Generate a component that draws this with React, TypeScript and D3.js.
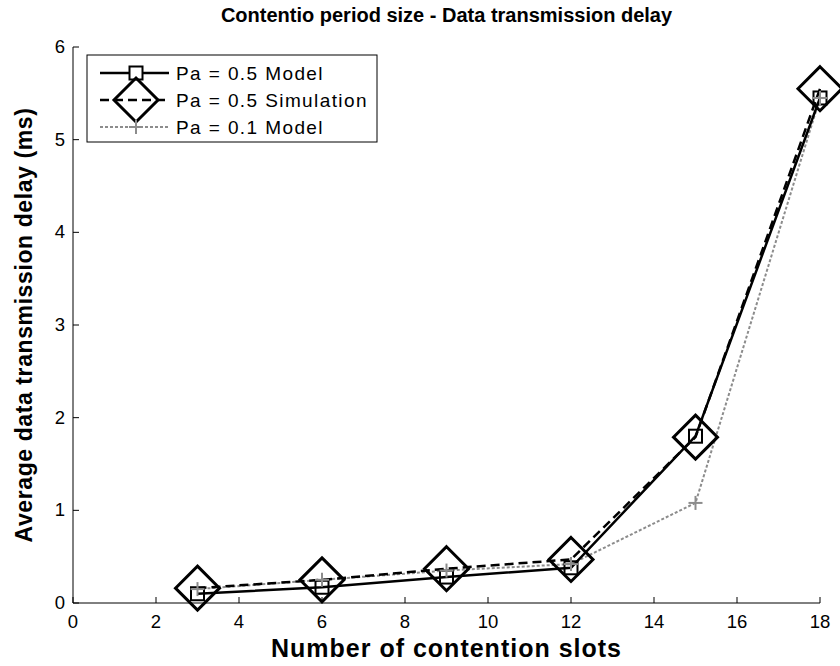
import React from "react";
import * as d3 from "d3";

const xValues = [3, 6, 9, 12, 15, 18];
const model05 = [0.1, 0.17, 0.28, 0.38, 1.8, 5.45];
const sim05 = [0.16, 0.25, 0.37, 0.47, 1.79, 5.55];
const model01 = [0.15, 0.25, 0.35, 0.42, 1.08, 5.45];
const xTicks = [0, 2, 4, 6, 8, 10, 12, 14, 16, 18];
const yTicks = [0, 1, 2, 3, 4, 5, 6];
const seriesNames = ["Pa = 0.5 Model", "Pa = 0.5 Simulation", "Pa = 0.1 Model"];
const title = "Contentio period size - Data transmission delay";
const xLabel = "Number of contention slots";
const yLabel = "Average data transmission delay (ms)";

const W = 840, H = 666;
const L = 73, R = 820, T = 47, B = 603;
const FONT = "'Liberation Sans', Arial, sans-serif";

export default function App() {
  const x = d3.scaleLinear().domain([0, 18]).range([L, R]);
  const y = d3.scaleLinear().domain([0, 6]).range([B, T]);
  const line = d3.line<number>().x((_, i) => x(xValues[i])).y((v) => y(v));

  const diamond = (cx: number, cy: number, r: number) =>
    `M${cx},${cy - r}L${cx + r},${cy}L${cx},${cy + r}L${cx - r},${cy}Z`;

  const lx = 87, ly = 55, lw = 290, lh = 87;
  const rows = [73, 100, 127];

  return (
    <svg width={W} height={H} style={{ position: "absolute", left: 0, top: 0, background: "#fff" }} fontFamily={FONT}>
      <rect width={W} height={H} fill="#fff" />
      <line x1={L} y1={T} x2={L} y2={B} stroke="#000" strokeWidth={1} />
      <line x1={L} y1={B} x2={R} y2={B} stroke="#000" strokeWidth={1} />
      {xTicks.map((t) => (
        <g key={"x" + t}>
          <line x1={x(t)} x2={x(t)} y1={B} y2={B - 6} stroke="#000" />
          <text x={x(t)} y={B + 25} textAnchor="middle" fontSize={18.5}>{t}</text>
        </g>
      ))}
      {yTicks.map((t) => (
        <g key={"y" + t}>
          <line x1={L} x2={L + 6} y1={y(t)} y2={y(t)} stroke="#000" />
          <text x={L - 8} y={y(t) + 6} textAnchor="end" fontSize={18.5}>{t}</text>
        </g>
      ))}
      <text x={(L + R) / 2} y={22} textAnchor="middle" fontSize={20} fontWeight="bold">{title}</text>
      <text x={(L + R) / 2} y={657} textAnchor="middle" fontSize={25} fontWeight="bold" letterSpacing={1}>{xLabel}</text>
      <text transform={`translate(32,${(T + B) / 2}) rotate(-90)`} textAnchor="middle" fontSize={23} fontWeight="bold" letterSpacing={0.6}>{yLabel}</text>

      <path d={line(model01) || ""} fill="none" stroke="#8c8c8c" strokeWidth={2} strokeDasharray="3,2" />
      <path d={line(model05) || ""} fill="none" stroke="#000" strokeWidth={2.5} />
      <path d={line(sim05) || ""} fill="none" stroke="#000" strokeWidth={2.5} strokeDasharray="9,5" />

      {model05.map((v, i) => (
        <rect key={"s" + i} x={x(xValues[i]) - 6.5} y={y(v) - 6.5} width={13} height={13} fill="none" stroke="#000" strokeWidth={2} />
      ))}
      {sim05.map((v, i) => (
        <path key={"d" + i} d={diamond(x(xValues[i]), y(v), 22)} fill="none" stroke="#000" strokeWidth={3} />
      ))}
      {model01.map((v, i) => (
        <g key={"p" + i} stroke="#8c8c8c" strokeWidth={2}>
          <line x1={x(xValues[i]) - 7} x2={x(xValues[i]) + 7} y1={y(v)} y2={y(v)} />
          <line x1={x(xValues[i])} x2={x(xValues[i])} y1={y(v) - 7} y2={y(v) + 7} />
        </g>
      ))}

      <rect x={lx} y={ly} width={lw} height={lh} fill="#fff" stroke="#000" strokeWidth={1} />
      <line x1={lx + 13} x2={lx + 82} y1={rows[0]} y2={rows[0]} stroke="#000" strokeWidth={2.5} />
      <rect x={lx + 42.5} y={rows[0] - 6.5} width={13} height={13} fill="#fff" stroke="#000" strokeWidth={2} />
      <line x1={lx + 13} x2={lx + 82} y1={rows[1]} y2={rows[1]} stroke="#000" strokeWidth={2.5} strokeDasharray="9,5" />
      <path d={diamond(lx + 49, rows[1], 22)} fill="none" stroke="#000" strokeWidth={3} />
      <line x1={lx + 13} x2={lx + 82} y1={rows[2]} y2={rows[2]} stroke="#8c8c8c" strokeWidth={2} strokeDasharray="3,2" />
      <g stroke="#8c8c8c" strokeWidth={2}>
        <line x1={lx + 42} x2={lx + 56} y1={rows[2]} y2={rows[2]} />
        <line x1={lx + 49} x2={lx + 49} y1={rows[2] - 7} y2={rows[2] + 7} />
      </g>
      {seriesNames.map((n, i) => (
        <text key={n} x={lx + 89} y={rows[i] + 7} fontSize={19} letterSpacing={1.4}>{n}</text>
      ))}
    </svg>
  );
}
